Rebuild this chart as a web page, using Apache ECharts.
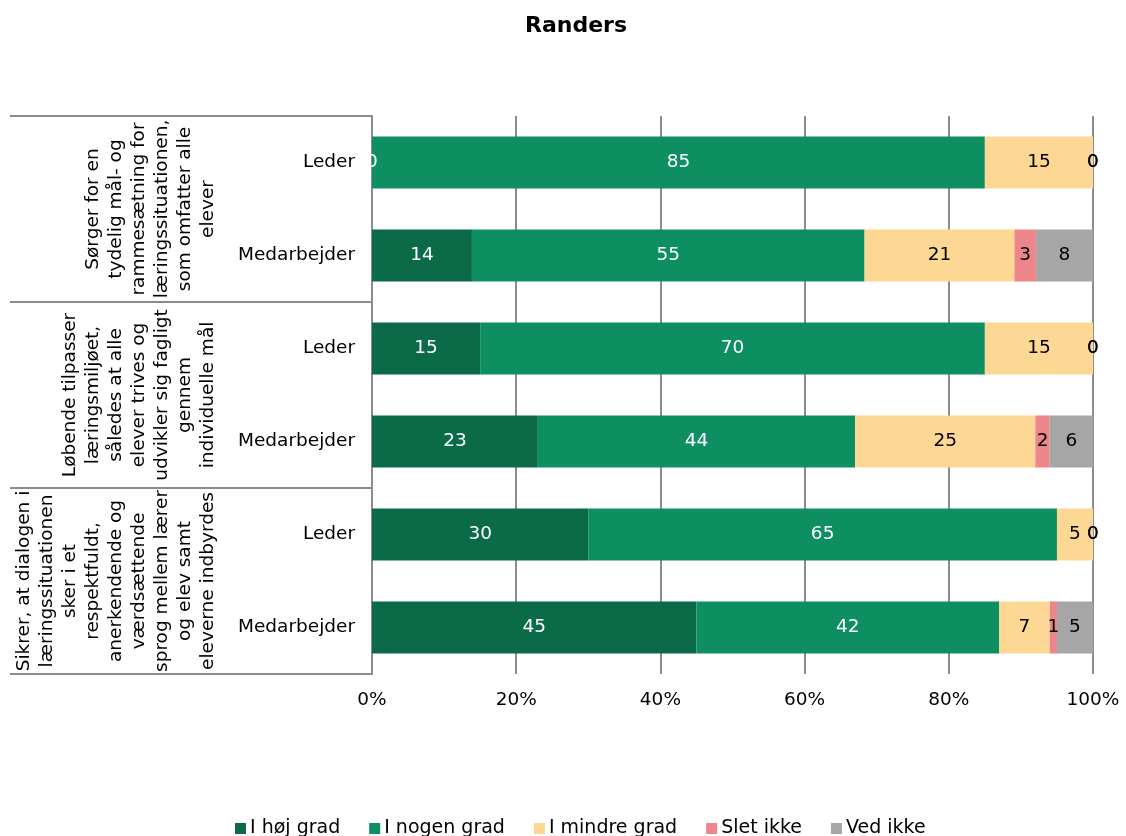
<!DOCTYPE html>
<html>
<head>
<meta charset="utf-8">
<script src="https://cdn.jsdelivr.net/npm/echarts@6/dist/echarts.min.js"></script>
<style>
  html, body { margin: 0; padding: 0; background: #fff; }
  #chart { width: 1126px; height: 836px; }
</style>
</head>
<body>
<div id="chart"></div>
<script>
// Rows from top to bottom: each statement has a Leder row and a Medarbejder row
const categories = ['Leder', 'Medarbejder', 'Leder', 'Medarbejder', 'Leder', 'Medarbejder'];
const groupLabels = [
  'Sørger for en\ntydelig mål- og\nrammesætning for\nlæringssituationen,\nsom omfatter alle\nelever',
  'Løbende tilpasser\nlæringsmiljøet,\nsåledes at alle\nelever trives og\nudvikler sig fagligt\ngennem\nindividuelle mål',
  'Sikrer, at dialogen i\nlæringssituationen\nsker i et\nrespektfuldt,\nanerkendende og\nværdsættende\nsprog mellem lærer\nog elev samt\neleverne indbyrdes'
];
const seriesNames = ['I høj grad', 'I nogen grad', 'I mindre grad', 'Slet ikke', 'Ved ikke'];
const hojGrad    = [0, 14, 15, 23, 30, 45];
const nogenGrad  = [85, 55, 70, 44, 65, 42];
const mindreGrad = [15, 21, 15, 25, 5, 7];
const sletIkke   = [0, 3, 0, 2, 0, 1];
const vedIkke    = [0, 8, 0, 6, 0, 5];
const xTicks = [0, 20, 40, 60, 80, 100];

const colors = ['#0B6B48', '#0D8F62', '#FDD794', '#EC868A', '#A6A6A6'];
const labelColors = ['#ffffff', '#ffffff', '#000000', '#000000', '#000000'];
const FONT = 'Verdana, "DejaVu Sans", sans-serif';

const allSeries = [hojGrad, nogenGrad, mindreGrad, sletIkke, vedIkke];
// 100% stacked: each segment is its share of the row total
const rowTotals = categories.map((_, i) => allSeries.reduce((s, arr) => s + arr[i], 0));

const GRID_LEFT = 372, GRID_TOP = 116, GRID_RIGHT = 33, GRID_BOTTOM = 162;
const plotH = 836 - GRID_TOP - GRID_BOTTOM;
const groupH = plotH / groupLabels.length;

const chart = echarts.init(document.getElementById('chart'), null, { renderer: 'canvas' });

// Separator lines and rotated statement texts to the left of the row labels
const graphics = [];
for (let g = 0; g <= groupLabels.length; g++) {
  const y = GRID_TOP + g * groupH;
  graphics.push({
    type: 'line',
    shape: { x1: 10, y1: y, x2: GRID_LEFT, y2: y },
    style: { stroke: '#8c8c8c', lineWidth: 2 },
    silent: true
  });
}
groupLabels.forEach((t, g) => {
  graphics.push({
    type: 'text',
    x: 220,
    y: GRID_TOP + (g + 0.5) * groupH,
    rotation: Math.PI / 2,
    style: {
      text: t,
      fontFamily: FONT,
      fontSize: 18.5,
      lineHeight: 23,
      fill: '#000',
      align: 'center',
      verticalAlign: 'bottom'
    },
    silent: true
  });
});

chart.setOption({
  animation: false,
  backgroundColor: '#fff',
  title: {
    text: 'Randers',
    left: 571,
    top: 10,
    textAlign: 'center',
    textStyle: { fontFamily: FONT, fontSize: 22, fontWeight: 'bold', color: '#000' }
  },
  legend: {
    data: seriesNames,
    top: 814,
    left: 230,
    itemWidth: 11,
    itemHeight: 11,
    itemGap: 29,
    icon: 'rect',
    textStyle: { fontFamily: FONT, fontSize: 19, color: '#000', padding: [0, 0, 0, -1] }
  },
  grid: { left: GRID_LEFT, right: GRID_RIGHT, top: GRID_TOP, bottom: GRID_BOTTOM, containLabel: false },
  xAxis: {
    type: 'value',
    min: xTicks[0],
    max: xTicks[xTicks.length - 1],
    interval: xTicks[1] - xTicks[0],
    axisLine: { show: false },
    axisTick: { show: false },
    splitLine: { show: true, lineStyle: { color: '#8c8c8c', width: 2 } },
    axisLabel: { formatter: '{value}%', fontFamily: FONT, fontSize: 18.5, color: '#000', margin: 17 }
  },
  yAxis: {
    type: 'category',
    data: categories,
    inverse: true,
    axisLine: { show: true, lineStyle: { color: '#8c8c8c', width: 2 } },
    axisTick: { show: false },
    axisLabel: { fontFamily: FONT, fontSize: 18.5, color: '#000', margin: 17 }
  },
  series: allSeries.map((arr, k) => ({
    name: seriesNames[k],
    type: 'bar',
    stack: 'total',
    barCategoryGap: '44%',
    itemStyle: { color: colors[k] },
    label: {
      show: true,
      position: 'inside',
      fontFamily: FONT,
      fontSize: 18.5,
      color: labelColors[k],
      formatter: p => String(p.data.raw)
    },
    data: arr.map((v, i) => ({ value: v / rowTotals[i] * 100, raw: v }))
  })),
  graphic: graphics
});
</script>
</body>
</html>
